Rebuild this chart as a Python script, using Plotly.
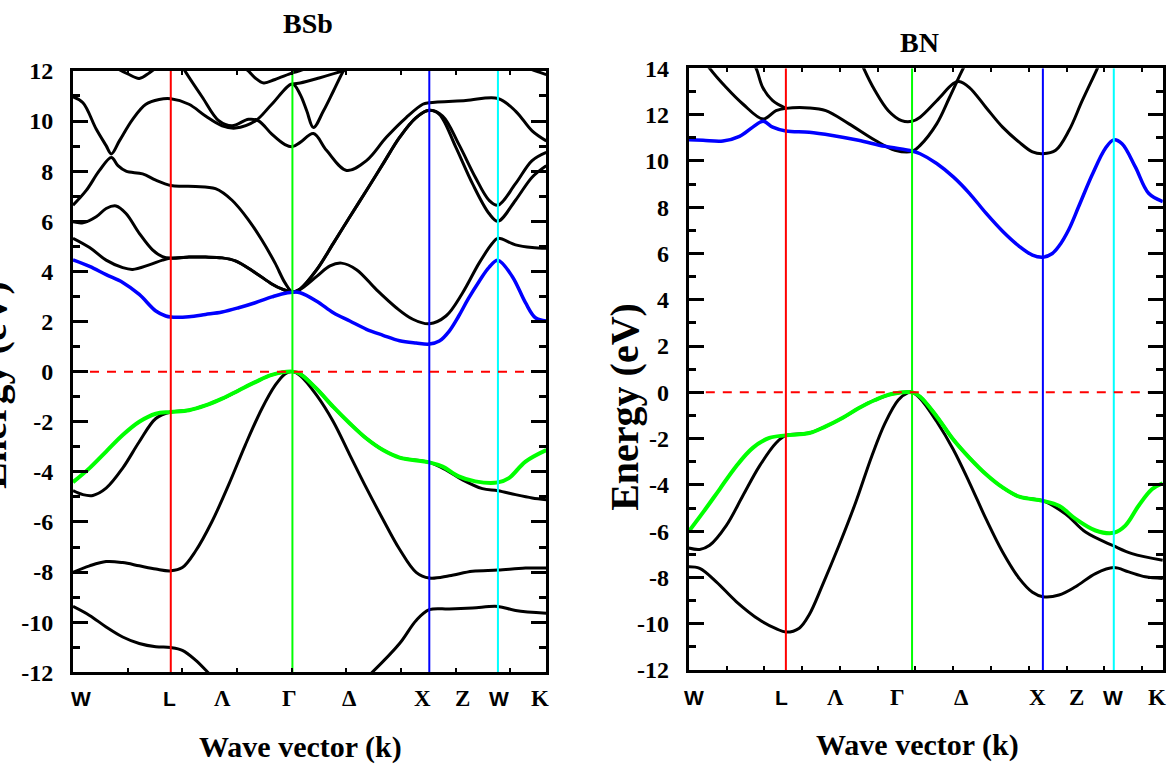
import plotly.graph_objects as go

FIG_W, FIG_H = 1175, 771
# the photographed page comes out slightly squeezed vertically; map wanted pixel rows to layout rows
SCALE_Y, OFF_Y = 0.97, 12.0


def fy(v):
    return 1 - (v / SCALE_Y - OFF_Y) / FIG_H


def fx(v):
    return v / FIG_W


# ---------------- high-symmetry points (fraction of k-path) ----------------
bsb_sym_k = [0.2066, 0.4636, 0.7528, 0.8978]      # L, Γ, X, W
bn_sym_k = [0.2048, 0.4710, 0.7470, 0.8966]       # L, Γ, X, W
sym_colors = ['#ff0000', '#00ff00', '#0000ff', '#00ffff']

k_labels = ['W', 'L', 'Λ', 'Γ', 'Δ', 'X', 'Z', 'W', 'K']
k_label_serif = [False, False, True, True, True, True, True, False, True]
bsb_label_k = [0.017, 0.204, 0.316, 0.457, 0.585, 0.738, 0.822, 0.900, 0.986]
bn_label_k = [0.010, 0.196, 0.309, 0.440, 0.576, 0.735, 0.817, 0.895, 0.987]

bsb_yticks = [-12, -10, -8, -6, -4, -2, 0, 2, 4, 6, 8, 10, 12]
bn_yticks = [-12, -10, -8, -6, -4, -2, 0, 2, 4, 6, 8, 10, 12, 14]

# ---------------- BSb bands: (k, E[eV]) ----------------
bsb_cb1 = [(0, 4.46), (0.035, 4.20), (0.07, 3.87), (0.105, 3.56), (0.14, 3.08), (0.175, 2.42),
           (0.196, 2.22), (0.2066, 2.18), (0.245, 2.19), (0.28, 2.28), (0.315, 2.38), (0.35, 2.55),
           (0.385, 2.75), (0.42, 2.98), (0.441, 3.10), (0.4636, 3.17), (0.48, 3.15), (0.515, 2.81),
           (0.55, 2.35), (0.585, 2.02), (0.62, 1.69), (0.655, 1.45), (0.69, 1.23), (0.725, 1.14),
           (0.7528, 1.10), (0.774, 1.22), (0.795, 1.62), (0.815, 2.22), (0.835, 2.90), (0.858, 3.60),
           (0.879, 4.16), (0.8978, 4.44), (0.928, 3.80), (0.956, 2.75), (0.977, 2.15), (1.0, 2.02)]

bsb_c2 = [(0, 5.32), (0.035, 4.95), (0.07, 4.45), (0.105, 4.15), (0.126, 4.08), (0.161, 4.26),
          (0.189, 4.45), (0.2066, 4.53), (0.245, 4.57), (0.28, 4.57), (0.315, 4.54), (0.343, 4.42),
          (0.385, 3.95), (0.42, 3.50), (0.441, 3.30), (0.4636, 3.18), (0.48, 3.28), (0.515, 3.80),
          (0.543, 4.22), (0.567, 4.33), (0.599, 4.07), (0.641, 3.27), (0.683, 2.55), (0.718, 2.09),
          (0.7528, 1.91), (0.788, 2.22), (0.823, 3.14), (0.858, 4.33), (0.886, 5.12), (0.8978, 5.32),
          (0.935, 5.06), (0.97, 4.95), (1.0, 4.92)]

bsb_c3 = [(0, 5.98), (0.021, 5.94), (0.049, 6.18), (0.07, 6.51), (0.091, 6.61), (0.112, 6.31),
          (0.14, 5.52), (0.168, 4.86), (0.189, 4.59), (0.2066, 4.53), (0.245, 4.57), (0.28, 4.57),
          (0.315, 4.54), (0.343, 4.42), (0.385, 3.95), (0.42, 3.50), (0.441, 3.30), (0.4636, 3.18),
          (0.48, 3.30), (0.515, 4.07), (0.55, 5.12), (0.585, 6.18), (0.62, 7.23), (0.655, 8.29),
          (0.69, 9.35), (0.725, 10.14), (0.7528, 10.43), (0.774, 10.27), (0.809, 8.95), (0.844, 7.50),
          (0.879, 6.31), (0.8978, 6.00), (0.935, 6.84), (0.97, 7.76), (1.0, 8.22)]

bsb_c4 = [(0, 6.64), (0.028, 7.23), (0.056, 8.03), (0.081, 8.55), (0.095, 8.22), (0.112, 8.00),
          (0.147, 7.89), (0.175, 7.64), (0.2066, 7.43), (0.231, 7.40), (0.259, 7.39), (0.301, 7.30),
          (0.336, 6.84), (0.371, 6.05), (0.399, 5.25), (0.427, 4.33), (0.448, 3.54), (0.4636, 3.18),
          (0.48, 3.30), (0.515, 4.07), (0.55, 5.12), (0.585, 6.18), (0.62, 7.23), (0.655, 8.29),
          (0.69, 9.35), (0.725, 10.14), (0.7528, 10.43), (0.781, 10.20), (0.815, 9.08), (0.85, 7.76),
          (0.879, 6.84), (0.8978, 6.64), (0.935, 7.50), (0.97, 8.42), (1.0, 8.75)]

bsb_c5 = [(0, 10.96), (0.021, 10.73), (0.049, 9.68), (0.07, 9.02), (0.081, 8.69), (0.098, 9.21),
          (0.126, 10.07), (0.154, 10.67), (0.182, 10.86), (0.2066, 10.89), (0.245, 10.67), (0.28, 10.20),
          (0.315, 9.81), (0.343, 9.72), (0.385, 10.00), (0.42, 10.67), (0.4636, 11.48), (0.48, 11.06),
          (0.494, 10.40), (0.508, 9.74), (0.529, 10.40), (0.55, 11.19), (0.571, 11.99), (0.578, 12.18)]

bsb_c6 = [(0.231, 12.2), (0.235, 12.05), (0.273, 10.96), (0.308, 10.01), (0.336, 9.81), (0.371, 10.07),
          (0.392, 10.01), (0.42, 9.48), (0.448, 9.06), (0.4636, 8.98), (0.48, 9.15), (0.508, 9.50),
          (0.536, 8.82), (0.578, 8.03), (0.62, 8.42), (0.662, 9.35), (0.704, 10.14), (0.739, 10.67),
          (0.7528, 10.73), (0.83, 10.82), (0.8978, 10.90), (0.935, 10.40), (0.97, 9.61), (1.0, 9.21)]

bsb_c7 = [(0.4636, 11.48), (0.48, 11.52), (0.52, 11.72), (0.571, 12.01), (0.59, 12.15)]
bsb_c8 = [(0.09, 12.15), (0.098, 12.05), (0.116, 11.88), (0.14, 11.70), (0.161, 11.92), (0.175, 12.12)]
bsb_c9 = [(0.364, 12.1), (0.371, 11.99), (0.385, 11.72), (0.403, 11.52), (0.427, 11.66),
          (0.4636, 11.92), (0.48, 12.01), (0.494, 12.12)]
bsb_c10 = [(0.963, 12.15), (0.97, 12.05), (0.985, 11.95), (1.0, 11.85)]

bsb_vb1 = [(0, -4.41), (0.035, -3.85), (0.07, -3.19), (0.105, -2.53), (0.14, -2.00), (0.175, -1.68),
           (0.2066, -1.61), (0.245, -1.54), (0.28, -1.35), (0.315, -1.08), (0.35, -0.75), (0.385, -0.42),
           (0.42, -0.13), (0.4636, 0.0), (0.48, -0.09), (0.515, -0.69), (0.55, -1.41), (0.585, -2.07),
           (0.62, -2.67), (0.655, -3.13), (0.69, -3.43), (0.7528, -3.62), (0.781, -3.79), (0.815, -4.18),
           (0.85, -4.38), (0.8978, -4.42), (0.921, -4.25), (0.956, -3.59), (1.0, -3.13)]

bsb_vb2 = [(0, -4.75), (0.021, -4.91), (0.042, -4.94), (0.07, -4.65), (0.105, -3.85), (0.14, -2.80),
           (0.175, -1.87), (0.2066, -1.61), (0.245, -1.54), (0.28, -1.35), (0.315, -1.08), (0.35, -0.75),
           (0.385, -0.42), (0.42, -0.13), (0.4636, 0.0), (0.48, -0.09), (0.515, -0.69), (0.55, -1.41),
           (0.585, -2.07), (0.62, -2.67), (0.655, -3.13), (0.69, -3.43), (0.7528, -3.62), (0.788, -3.92),
           (0.823, -4.32), (0.865, -4.67), (0.8978, -4.75), (0.935, -4.91), (0.97, -5.04), (1.0, -5.11)]

bsb_vb3 = [(0, -8.01), (0.035, -7.75), (0.07, -7.58), (0.105, -7.62), (0.14, -7.75), (0.175, -7.88),
           (0.2066, -7.95), (0.231, -7.82), (0.259, -7.16), (0.294, -5.97), (0.329, -4.51), (0.364, -2.93),
           (0.399, -1.48), (0.427, -0.55), (0.448, -0.09), (0.4636, 0.0), (0.48, -0.16), (0.515, -0.95),
           (0.55, -2.00), (0.585, -3.33), (0.62, -4.65), (0.655, -5.90), (0.69, -7.09), (0.725, -8.01),
           (0.7528, -8.24), (0.795, -8.15), (0.844, -7.97), (0.8978, -7.92), (0.956, -7.84), (1.0, -7.84)]

bsb_vb4a = [(0, -9.37), (0.035, -9.73), (0.07, -10.19), (0.105, -10.59), (0.14, -10.85), (0.175, -10.98),
            (0.2066, -11.01), (0.231, -11.12), (0.259, -11.51), (0.287, -12.04), (0.30, -12.3)]
bsb_vb4b = [(0.615, -12.3), (0.63, -12.04), (0.69, -10.85), (0.725, -9.93), (0.7528, -9.50),
            (0.795, -9.47), (0.844, -9.43), (0.8978, -9.37), (0.935, -9.53), (1.0, -9.64)]

# ---------------- BN bands ----------------
bn_cb1 = [(0, 10.91), (0.030, 10.89), (0.072, 10.86), (0.107, 11.06), (0.135, 11.46), (0.157, 11.71),
          (0.177, 11.46), (0.2048, 11.29), (0.254, 11.24), (0.303, 11.10), (0.358, 10.89), (0.414, 10.63),
          (0.471, 10.43), (0.488, 10.31), (0.523, 9.89), (0.558, 9.31), (0.592, 8.60), (0.627, 7.74),
          (0.662, 6.96), (0.697, 6.31), (0.725, 5.93), (0.747, 5.84), (0.767, 6.00), (0.781, 6.32),
          (0.802, 7.05), (0.823, 8.05), (0.851, 9.40), (0.879, 10.55), (0.8966, 10.91), (0.914, 10.74),
          (0.942, 9.74), (0.970, 8.60), (1.0, 8.24)]

bn_c2 = [(0.034, 14.31), (0.044, 14.0), (0.079, 13.17), (0.114, 12.46), (0.157, 11.81), (0.184, 12.17),
         (0.2048, 12.27), (0.254, 12.29), (0.289, 12.17), (0.338, 11.60), (0.393, 10.89), (0.435, 10.46),
         (0.471, 10.41), (0.488, 10.67), (0.523, 11.60), (0.55, 12.74), (0.579, 14.0), (0.585, 14.2)]
bn_c3 = [(0.135, 14.2), (0.142, 14.0), (0.156, 13.17), (0.177, 12.60), (0.2048, 12.27)]
bn_c4 = [(0.365, 14.2), (0.369, 14.0), (0.393, 13.03), (0.421, 12.17), (0.449, 11.74), (0.471, 11.71),
         (0.488, 11.89), (0.523, 12.60), (0.558, 13.34), (0.570, 13.43), (0.592, 13.17), (0.627, 12.31),
         (0.662, 11.46), (0.697, 10.81), (0.725, 10.39), (0.747, 10.31), (0.774, 10.46), (0.802, 11.31),
         (0.830, 12.60), (0.862, 14.0), (0.866, 14.2)]

bn_vb1 = [(0, -6.01), (0.030, -5.19), (0.065, -4.19), (0.100, -3.19), (0.135, -2.40), (0.170, -1.97),
          (0.2048, -1.86), (0.254, -1.76), (0.289, -1.47), (0.324, -1.11), (0.358, -0.69), (0.393, -0.33),
          (0.428, -0.07), (0.471, 0.0), (0.488, -0.19), (0.523, -1.04), (0.558, -2.04), (0.592, -2.83),
          (0.627, -3.54), (0.662, -4.11), (0.697, -4.51), (0.747, -4.69), (0.781, -4.90), (0.816, -5.47),
          (0.858, -5.97), (0.8966, -6.07), (0.921, -5.76), (0.949, -4.90), (0.977, -4.19), (1.0, -3.93)]

bn_vb2 = [(0, -6.73), (0.023, -6.79), (0.044, -6.61), (0.079, -5.76), (0.114, -4.47), (0.149, -3.19),
          (0.184, -2.19), (0.2048, -1.86), (0.254, -1.76), (0.289, -1.47), (0.324, -1.11), (0.358, -0.69),
          (0.393, -0.33), (0.428, -0.07), (0.471, 0.0), (0.488, -0.19), (0.523, -1.04), (0.558, -2.04),
          (0.592, -2.83), (0.627, -3.54), (0.662, -4.11), (0.697, -4.51), (0.747, -4.69), (0.795, -5.26),
          (0.837, -6.04), (0.8966, -6.64), (0.935, -6.97), (1.0, -7.26)]

bn_vb3 = [(0, -7.54), (0.023, -7.61), (0.058, -8.19), (0.100, -9.04), (0.149, -9.83), (0.184, -10.21),
          (0.2048, -10.36), (0.233, -10.19), (0.254, -9.61), (0.282, -8.33), (0.317, -6.61), (0.352, -4.76),
          (0.386, -2.76), (0.414, -1.33), (0.442, -0.33), (0.463, -0.01), (0.471, 0.0), (0.488, -0.26),
          (0.523, -1.26), (0.558, -2.47), (0.592, -3.90), (0.627, -5.47), (0.662, -6.90), (0.697, -8.04),
          (0.725, -8.64), (0.747, -8.83), (0.781, -8.76), (0.816, -8.40), (0.858, -7.83), (0.8966, -7.57),
          (0.928, -7.76), (0.963, -7.97), (1.0, -8.04)]

panels = [
    dict(xa='x', ya='y', yr=[-12, 12], sym=bsb_sym_k, lab=bsb_label_k, yticks=bsb_yticks,
         black=[bsb_c2, bsb_c3, bsb_c4, bsb_c5, bsb_c6, bsb_c7, bsb_c8, bsb_c9, bsb_c10,
                bsb_vb2, bsb_vb3, bsb_vb4a, bsb_vb4b],
         blue=bsb_cb1, green=bsb_vb1,
         xdom=[fx(73.0), fx(546.3)], ydom=[fy(673.5), fy(69.8)],
         xdtick=0.1155, title='BSb', title_xy=(308, 22), xt_xy=(300, 748), lab_y=700,
         ylab_xy=(-7, 385)),
    dict(xa='x2', ya='y2', yr=[-12, 14], sym=bn_sym_k, lab=bn_label_k, yticks=bn_yticks,
         black=[bn_c2, bn_c3, bn_c4, bn_vb2, bn_vb3],
         blue=bn_cb1, green=bn_vb1,
         xdom=[fx(688.8), fx(1162.8)], ydom=[fy(671.2), fy(67.2)],
         xdtick=0.0797, title='BN', title_xy=(919, 41), xt_xy=(917, 746), lab_y=699,
         ylab_xy=(625, 407)),
]

SERIF = 'Liberation Serif'
SANS = 'Liberation Sans'

fig = go.Figure()
annotations = []
layout_axes = {}

for i, p in enumerate(panels):
    xa, ya = p['xa'], p['ya']

    def add_band(pts, color, width):
        fig.add_trace(go.Scatter(x=[q[0] for q in pts], y=[q[1] for q in pts], mode='lines',
                                 line=dict(color=color, width=width, shape='spline', smoothing=1.0),
                                 xaxis=xa, yaxis=ya, hoverinfo='skip', showlegend=False))

    for band in p['black']:
        add_band(band, 'black', 3)
    add_band(p['blue'], '#0000ff', 3.5)
    add_band(p['green'], '#00ff00', 4)

    # high-symmetry vertical lines
    for k, c in zip(p['sym'], sym_colors):
        fig.add_trace(go.Scatter(x=[k, k], y=p['yr'], mode='lines', line=dict(color=c, width=2),
                                 xaxis=xa, yaxis=ya, hoverinfo='skip', showlegend=False))
    # Fermi level
    fig.add_trace(go.Scatter(x=[0, 1], y=[0, 0], mode='lines',
                             line=dict(color='#ff0000', width=2, dash='9px,8px'),
                             xaxis=xa, yaxis=ya, hoverinfo='skip', showlegend=False))

    axn = '' if i == 0 else '2'
    minor_vals = [v for v in range(p['yr'][0], p['yr'][1] + 1) if v % 2]
    layout_axes['xaxis' + axn] = dict(
        domain=p['xdom'], range=[0, 1], anchor=ya, showline=True, linewidth=3, linecolor='black',
        mirror='ticks', ticks='inside', ticklen=4, tickwidth=1.5, tickcolor='black',
        tick0=0, dtick=p['xdtick'], showticklabels=False, showgrid=False, zeroline=False)
    layout_axes['yaxis' + axn] = dict(
        domain=p['ydom'], range=p['yr'], anchor=xa, showline=True, linewidth=3, linecolor='black',
        mirror='ticks', ticks='inside', ticklen=15, tickwidth=3, tickcolor='black',
        tickmode='array', tickvals=p['yticks'], ticktext=[str(v) for v in p['yticks']],
        minor=dict(tickmode='array', tickvals=minor_vals, ticks='inside', ticklen=7, tickwidth=3,
                   tickcolor='black'),
        tickfont=dict(family=SERIF, size=24, color='black', weight='bold'),
        ticklabelstandoff=12, showgrid=False, zeroline=False)

    # k-point labels
    for name, kx, serif in zip(k_labels, p['lab'], k_label_serif):
        annotations.append(dict(x=kx, y=fy(p['lab_y']), xref=xa, yref='paper', text=name,
                                showarrow=False, xanchor='center', yanchor='middle',
                                font=dict(family=SERIF if serif else SANS, size=23 if serif else 21,
                                          color='black', weight='bold')))
    # panel title
    annotations.append(dict(x=fx(p['title_xy'][0]), y=fy(p['title_xy'][1]), xref='paper',
                            yref='paper', text=p['title'], showarrow=False, xanchor='center',
                            yanchor='middle', font=dict(family=SERIF, size=28, color='black', weight='bold')))
    # x title
    annotations.append(dict(x=fx(p['xt_xy'][0]), y=fy(p['xt_xy'][1]), xref='paper',
                            yref='paper', text='Wave vector (k)', showarrow=False, xanchor='center',
                            yanchor='middle', font=dict(family=SERIF, size=30, color='black', weight='bold')))
    # y title
    annotations.append(dict(x=fx(p['ylab_xy'][0]), y=fy(p['ylab_xy'][1]), xref='paper',
                            yref='paper', text='Energy (eV)', showarrow=False, xanchor='center',
                            yanchor='middle', textangle=-90,
                            font=dict(family=SERIF, size=40, color='black', weight='bold')))

fig.update_layout(width=FIG_W, height=FIG_H, margin=dict(l=0, r=0, t=0, b=0),
                  paper_bgcolor='white', plot_bgcolor='white', showlegend=False,
                  annotations=annotations, **layout_axes)

fig.write_html('out.html')
